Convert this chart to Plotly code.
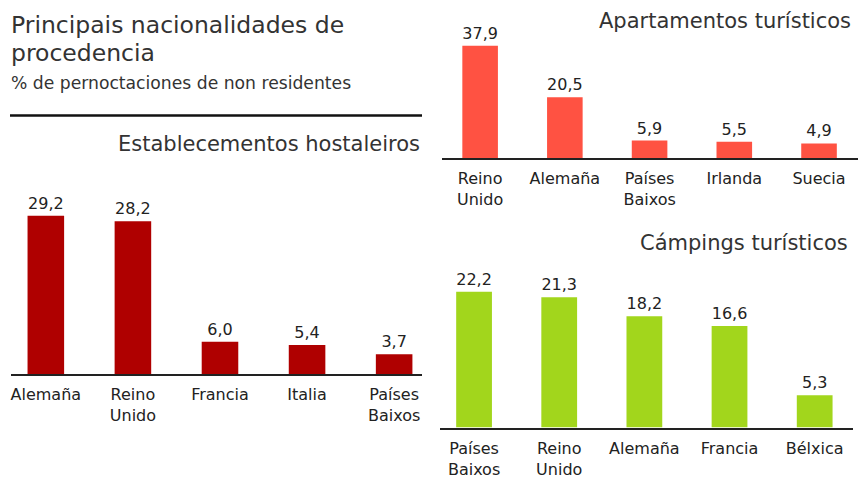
import plotly.graph_objects as go

W, H = 858, 479

# ---- data ----
hostel_cats = ["Alemaña", "Reino<br>Unido", "Francia", "Italia", "Países<br>Baixos"]
hostel_vals = [29.2, 28.2, 6.0, 5.4, 3.7]

apart_cats = ["Reino<br>Unido", "Alemaña", "Países<br>Baixos", "Irlanda", "Suecia"]
apart_vals = [37.9, 20.5, 5.9, 5.5, 4.9]

camp_cats = ["Países<br>Baixos", "Reino<br>Unido", "Alemaña", "Francia", "Bélxica"]
camp_vals = [22.2, 21.3, 18.2, 16.6, 5.3]

main_title = "Principais nacionalidades de"
main_title2 = "procedencia"
subtitle = "% de pernoctaciones de non residentes"
titles = ["Establecementos hostaleiros", "Apartamentos turísticos", "Cámpings turísticos"]

FONT = "DejaVu Sans"
TXT = "#222222"

def fmt(v):
    return f"{v:.1f}".replace(".", ",")

def px(x):
    return x / W

def py(y):
    return 1 - y / H

fig = go.Figure()

panels = [
    (hostel_cats, hostel_vals, "#AF0000", "x", "y", (11, 422), (190, 379), [-0.40, 4.32], [0, 34.4]),
    (apart_cats, apart_vals, "#FF5242", "x2", "y2", (442, 858), (40, 160), [-0.45, 4.46], [0, 40.0]),
    (camp_cats, camp_vals, "#A2D61C", "x3", "y3", (440, 853), (270, 433), [-0.40, 4.45], [0, 26.3]),
]

layout_axes = {}
for i, (cats, vals, col, xa, ya, xd, yd, xr, yr) in enumerate(panels):
    fig.add_trace(go.Bar(
        x=list(range(len(cats))), y=vals, xaxis=xa, yaxis=ya,
        marker=dict(color=col, line=dict(width=0)),
        width=0.42,
        text=[fmt(v) for v in vals], textposition="outside",
        textfont=dict(family=FONT, size=16, color=TXT),
        cliponaxis=False, showlegend=False, hoverinfo="skip",
    ))
    sx = "xaxis" if i == 0 else f"xaxis{i+1}"
    sy = "yaxis" if i == 0 else f"yaxis{i+1}"
    layout_axes[sx] = dict(
        domain=[px(xd[0]), px(xd[1])], anchor=ya, range=xr,
        tickmode="array", tickvals=list(range(len(cats))), ticktext=cats,
        showline=True, linecolor="#222222", linewidth=2,
        showgrid=False, zeroline=False,
        ticks="outside", ticklen=5, tickcolor="rgba(0,0,0,0)",
        tickfont=dict(family=FONT, size=16, color=TXT),
        fixedrange=True,
    )
    layout_axes[sy] = dict(
        domain=[py(yd[1]), py(yd[0])], anchor=xa, range=yr,
        visible=False, showgrid=False, zeroline=False, fixedrange=True,
    )

annotations = [
    dict(text=main_title, x=px(9), y=py(25), xanchor="left", yanchor="middle",
         font=dict(family=FONT, size=23.5, color="#333333")),
    dict(text=main_title2, x=px(9), y=py(54), xanchor="left", yanchor="middle",
         font=dict(family=FONT, size=23.5, color="#333333")),
    dict(text=subtitle, x=px(9), y=py(84), xanchor="left", yanchor="middle",
         font=dict(family=FONT, size=17.2, color="#333333")),
    dict(text=titles[0], x=px(422), y=py(146), xanchor="right", yanchor="middle",
         font=dict(family=FONT, size=21, color="#333333")),
    dict(text=titles[1], x=px(853), y=py(21), xanchor="right", yanchor="middle",
         font=dict(family=FONT, size=21, color="#333333")),
    dict(text=titles[2], x=px(850), y=py(246), xanchor="right", yanchor="middle",
         font=dict(family=FONT, size=21, color="#333333")),
]
for a in annotations:
    a.update(xref="paper", yref="paper", showarrow=False)

fig.update_layout(
    width=W, height=H,
    margin=dict(l=0, r=0, t=0, b=0),
    paper_bgcolor="white", plot_bgcolor="white",
    separators=",.",
    annotations=annotations,
    shapes=[dict(type="line", xref="paper", yref="paper",
                 x0=px(10), x1=px(422), y0=py(117), y1=py(117),
                 line=dict(color="#111111", width=2.5))],
    **layout_axes,
)

fig.write_html("out.html", config={"displayModeBar": False},
               post_script="document.body.style.margin='0';document.body.style.overflow='hidden';")
